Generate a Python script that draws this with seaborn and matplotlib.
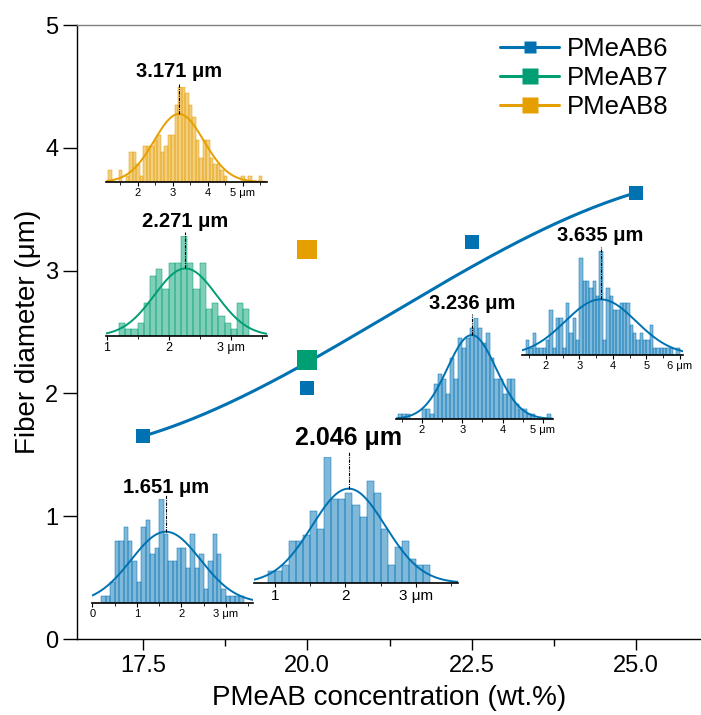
import numpy as np
import pandas as pd
import matplotlib
matplotlib.use("Agg")
import matplotlib.pyplot as plt
import matplotlib.transforms as mtransforms
from matplotlib.lines import Line2D
from math import comb
import seaborn as sns

# ---------------- data ----------------
conc6 = [17.5, 20.0, 22.5, 25.0]
diam6 = [1.651, 2.046, 3.236, 3.635]
conc7 = [20.0]
diam7 = [2.271]
conc8 = [20.0]
diam8 = [3.171]
series_names = ["PMeAB6", "PMeAB7", "PMeAB8"]
x_ticks = [17.5, 20.0, 22.5, 25.0]
y_ticks = [0, 1, 2, 3, 4, 5]

# fiber-diameter distributions (bin width 0.1 um)
bin_width = 0.1
h8_start = 1.15
h8_counts = [2, 0, 0, 2, 0, 1, 5, 5, 3, 1, 6, 6, 6, 7, 8, 5, 6, 8, 8, 13, 16, 16,
             15, 13, 11, 7, 4, 7, 7, 4, 3, 3, 2, 1, 0, 0, 0, 0, 1, 0, 1, 0, 0, 1]
h8_sd = 0.71
h7_start = 1.2
h7_counts = [2, 1, 1, 2, 5, 9, 10, 7, 11, 11, 15, 11, 7, 11, 4, 5, 3, 2, 1, 5, 4]
h7_sd = 0.50
h6a_start = 0.2
h6a_counts = [1, 1, 3, 9, 9, 11, 9, 6, 3, 11, 12, 7, 8, 15, 10, 6, 6, 8, 8, 5, 10,
              5, 7, 2, 6, 10, 7, 2, 1, 1, 1, 1]
h6a_sd = 0.78
h6b_start = 0.9
h6b_counts = [2, 2, 3, 7, 7, 8, 12, 9, 21, 14, 14, 15, 13, 11, 17, 15, 9, 3, 6, 7, 4, 3, 3]
h6b_sd = 0.52
h6c_start = 1.4
h6c_counts = [1, 1, 1, 0, 0, 0, 2, 2, 1, 7, 9, 8, 5, 12, 8, 16, 14, 16, 18, 20, 18,
              15, 17, 12, 8, 8, 5, 8, 8, 3, 2, 2, 1, 1, 0, 0, 0, 1]
h6c_sd = 0.60
h6d_start = 1.4
h6d_counts = [2, 1, 3, 1, 1, 1, 2, 6, 1, 5, 5, 1, 7, 3, 5, 2, 13, 10, 10, 9, 10, 8,
              14, 2, 9, 8, 6, 6, 7, 7, 7, 4, 3, 2, 3, 2, 2, 4, 1, 1, 1, 1, 1, 1, 0, 1]
h6d_sd = 1.06

C6, C7, C8 = "#0072B2", "#009E73", "#E69F00"

# ---------------- figure ----------------
sns.set_theme(style="ticks")
plt.rcParams["font.family"] = ["Liberation Sans", "DejaVu Sans"]
plt.rcParams.update({"text.color": "black", "axes.labelcolor": "black",
                     "xtick.color": "black", "ytick.color": "black"})

W, H = 701, 715
fig = plt.figure(figsize=(W / 100, H / 100), dpi=100)
ax = fig.add_axes([77 / W, 76 / H, 625 / W, 614 / H])

# B-spline (Bezier) connection through the PMeAB6 control points
t = np.linspace(0, 1, 300)
n = len(conc6) - 1
basis = np.array([comb(n, i) * t**i * (1 - t) ** (n - i) for i in range(n + 1)])
bx = basis.T @ np.array(conc6)
by = basis.T @ np.array(diam6)
sns.lineplot(x=bx, y=by, ax=ax, color=C6, lw=2.2, sort=False, zorder=3)
sns.scatterplot(x=conc6, y=diam6, ax=ax, color=C6, marker="s", s=100,
                edgecolor="none", zorder=4)
sns.scatterplot(x=conc7, y=diam7, ax=ax, color=C7, marker="s", s=200,
                edgecolor="none", zorder=4)
sns.scatterplot(x=conc8, y=diam8, ax=ax, color=C8, marker="s", s=200,
                edgecolor="none", zorder=4)

ax.set_xlim(16.5, 26.0)
ax.set_ylim(0, 5)
ax.set_xticks(x_ticks)
ax.set_xticklabels([f"{v:.1f}" for v in x_ticks])
ax.set_xticks([18.75, 21.25, 23.75], minor=True)
ax.set_yticks(y_ticks)
ax.set_yticklabels([str(v) for v in y_ticks])
ax.tick_params(axis="both", which="major", labelsize=17, length=8, width=1,
               color="black", labelcolor="black", direction="out")
ax.tick_params(axis="x", which="minor", length=5, width=1, color="black")
ax.tick_params(axis="y", which="major", length=10)
for s in ["left", "bottom"]:
    ax.spines[s].set_color("black")
    ax.spines[s].set_linewidth(1)
ax.spines["top"].set_color("#808080")
ax.spines["top"].set_linewidth(1)
ax.spines["right"].set_visible(False)
ax.set_xlabel("PMeAB concentration (wt.%)", fontsize=20, labelpad=6, color="black")
ax.set_ylabel("Fiber diameter (\u03bcm)", fontsize=20, labelpad=3, color="black")

handles = [
    Line2D([0], [0], color=C6, lw=2.2, marker="s", ms=9, mec="none"),
    Line2D([0], [0], color=C7, lw=2.2, marker="s", ms=12, mec="none"),
    Line2D([0], [0], color=C8, lw=2.2, marker="s", ms=12, mec="none"),
]
ax.legend(handles, series_names, loc="upper left", frameon=False, fontsize=18.5,
          bbox_to_anchor=(500 / W, (H - 37) / H), bbox_transform=fig.transFigure,
          borderaxespad=0, borderpad=0, handlelength=2.3, handletextpad=0.3,
          labelspacing=0.2)


def inset(x0, x1, base, top, start, counts, mean, sd, color, xlim, ticks,
          label_frac, tick_fs=8, label_fs=14.5):
    iax = fig.add_axes([x0 / W, (H - base) / H, (x1 - x0) / W, (base - top) / H])
    iax.patch.set_alpha(0)
    nb = len(counts)
    edges = start + bin_width * np.arange(nb + 1)
    df = pd.DataFrame({"d": edges[:-1] + bin_width / 2, "n": counts})
    sns.histplot(data=df, x="d", weights="n", binwidth=bin_width,
                 binrange=(float(edges[0]), float(edges[-1])), ax=iax,
                 color=color, alpha=0.5, edgecolor=color, linewidth=0.35)
    xs = np.linspace(xlim[0], xlim[1], 300)
    amp = np.sum(counts) * bin_width
    pdf = amp / (sd * np.sqrt(2 * np.pi)) * np.exp(-0.5 * ((xs - mean) / sd) ** 2)
    iax.plot(xs, pdf, color=color, lw=1.4)
    ymax = max(counts)
    iax.set_ylim(0, ymax)
    iax.set_xlim(*xlim)
    peak = amp / (sd * np.sqrt(2 * np.pi))
    iax.plot([mean, mean], [peak, 1.04 * ymax], color="black", lw=0.8,
             ls=(0, (3, 1, 1, 1)), clip_on=False)
    trans = mtransforms.blended_transform_factory(iax.transData, iax.transAxes)
    iax.text(mean, label_frac, f"{mean:.3f} \u03bcm", transform=trans,
             ha="center", va="center", fontsize=label_fs, fontweight="bold",
             color="black")
    labels = [str(v) for v in ticks]
    labels[-1] = labels[-1] + " \u03bcm"
    iax.set_xticks(ticks)
    iax.set_xticklabels(labels)
    iax.set_xticks(np.arange(np.ceil(xlim[0] * 2) / 2, xlim[1], 0.5), minor=True)
    iax.tick_params(axis="x", which="major", labelsize=tick_fs, length=3,
                    width=0.8, pad=1, color="black", labelcolor="black")
    iax.tick_params(axis="x", which="minor", length=2, width=0.6, color="black")
    iax.set_yticks([])
    iax.set_ylabel("")
    iax.set_xlabel("")
    for s in ["left", "right", "top"]:
        iax.spines[s].set_visible(False)
    iax.spines["bottom"].set_color("black")
    iax.spines["bottom"].set_linewidth(1.2)
    return iax


inset(106, 267, 182, 87, h8_start, h8_counts, diam8[0], h8_sd, C8,
      (1.086, 5.686), [2, 3, 4, 5], 1.168)
inset(106, 267, 336, 236, h7_start, h7_counts, diam7[0], h7_sd, C7,
      (0.99, 3.585), [1, 2, 3], 1.14, tick_fs=9)
inset(92, 253, 603, 499, h6a_start, h6a_counts, diam6[0], h6a_sd, C6,
      (-0.01, 3.61), [0, 1, 2, 3], 1.109)
inset(254, 458, 583, 457, h6b_start, h6b_counts, diam6[1], h6b_sd, C6,
      (0.70, 3.60), [1, 2, 3], 1.148, tick_fs=11, label_fs=18)
inset(396, 553, 419, 318, h6c_start, h6c_counts, diam6[2], h6c_sd, C6,
      (1.36, 5.25), [2, 3, 4, 5], 1.142)
inset(522, 683, 355, 251, h6d_start, h6d_counts, diam6[3], h6d_sd, C6,
      (1.28, 6.10), [2, 3, 4, 5, 6], 1.15)

fig.savefig("out.png", dpi=100)
